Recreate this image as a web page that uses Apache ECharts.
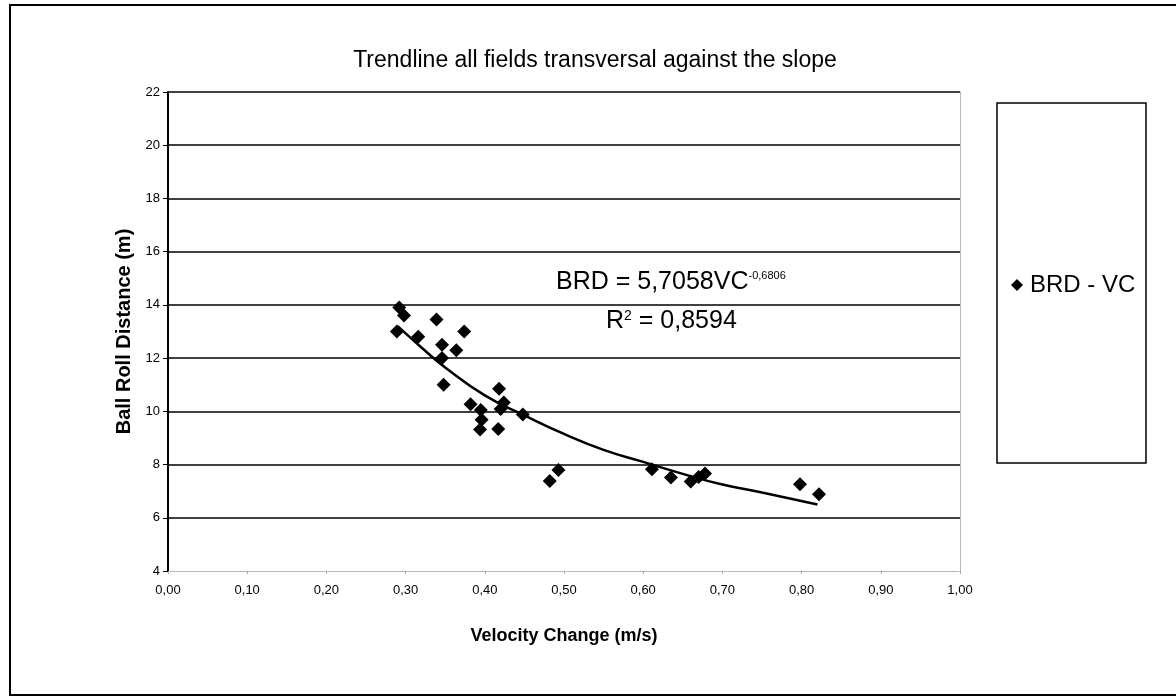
<!DOCTYPE html>
<html>
<head>
<meta charset="utf-8">
<title>Trendline all fields transversal against the slope</title>
<script src="https://cdn.jsdelivr.net/npm/echarts@6/dist/echarts.min.js"></script>
<style>
  html, body { margin: 0; padding: 0; background: #fff; }
  #chart { width: 1176px; height: 699px; }
</style>
</head>
<body>
<div id="chart"></div>
<script>
// measured points (Velocity Change, Ball Roll Distance)
const vcValues = [0.292, 0.298, 0.339, 0.374, 0.289, 0.316, 0.346, 0.364, 0.346, 0.348,
  0.382, 0.395, 0.396, 0.394, 0.418, 0.424, 0.420, 0.417, 0.448, 0.493,
  0.482, 0.611, 0.635, 0.660, 0.670, 0.678, 0.798, 0.822]
const brdValues = [13.9, 13.6, 13.45, 13.0, 13.0, 12.8, 12.5, 12.3, 12.0, 11.0,
  10.27, 10.05, 9.68, 9.32, 10.85, 10.33, 10.09, 9.34, 9.88, 7.80,
  7.38, 7.82, 7.51, 7.36, 7.53, 7.66, 7.26, 6.88]

// trendline
const trendX = [0.29, 0.32, 0.35, 0.40, 0.45, 0.50, 0.55, 0.60, 0.65, 0.70, 0.75, 0.82]
const trendY = [13.2, 12.4, 11.65, 10.6, 9.85, 9.15, 8.55, 8.1, 7.65, 7.25, 6.95, 6.5]

const seriesName = 'BRD - VC'
const titleText = 'Trendline all fields transversal against the slope'
const xName = 'Velocity Change (m/s)'
const yName = 'Ball Roll Distance (m)'

const font = "'Liberation Sans', Arial, sans-serif"

let chart = echarts.init(document.getElementById('chart'))

let scatterData = vcValues.map((v, i) => [v, brdValues[i]])
let trendData = trendX.map((v, i) => [v, trendY[i]])

// first split line (at the x axis) is left out, the axis line is dotted there
let splitColors = ['rgba(0,0,0,0)']
for (let i = 0; i < 9; i++) splitColors.push('#000')

let option = {
  animation: false,
  backgroundColor: '#fff',
  textStyle: { fontFamily: font },
  title: {
    text: titleText,
    left: 590,
    top: 44,
    textAlign: 'center',
    textStyle: { fontSize: 23, fontWeight: 'normal', color: '#000', fontFamily: font }
  },
  legend: {
    data: [seriesName],
    left: 1006,
    top: 268,
    icon: 'diamond',
    itemWidth: 12,
    itemHeight: 12,
    itemGap: 0,
    textStyle: { fontSize: 24, color: '#000', fontFamily: font, padding: [0, 0, 0, 2] }
  },
  grid: {
    left: 168,
    right: 216,
    top: 92,
    bottom: 128
  },
  xAxis: {
    type: 'value',
    min: 0,
    max: 1,
    interval: 0.1,
    name: xName,
    nameLocation: 'middle',
    nameGap: 56,
    nameTextStyle: { fontSize: 18, fontWeight: 'bold', color: '#000', fontFamily: font },
    axisLine: { show: true, lineStyle: { color: '#aaa', type: 'dotted', width: 1 } },
    axisTick: { show: true, length: 3, lineStyle: { color: '#aaa' } },
    axisLabel: {
      color: '#000',
      fontSize: 13,
      margin: 13,
      formatter: v => v.toFixed(2).replace('.', ',')
    },
    splitLine: { show: false }
  },
  yAxis: [{
    type: 'value',
    min: 4,
    max: 22,
    interval: 2,
    name: yName,
    nameLocation: 'middle',
    nameGap: 33,
    nameTextStyle: { fontSize: 20, fontWeight: 'bold', color: '#000', fontFamily: font },
    axisLine: { show: true, lineStyle: { color: '#000', width: 2 } },
    axisTick: { show: true, length: 5, lineStyle: { color: '#000' } },
    axisLabel: { color: '#000', fontSize: 13, margin: 8 },
    splitLine: { show: true, lineStyle: { color: splitColors, width: 1.5 } }
  }, {
    type: 'value',
    min: 4,
    max: 22,
    interval: 2,
    position: 'right',
    axisLine: { show: true, lineStyle: { color: '#aaa', type: 'dotted', width: 1 } },
    axisTick: { show: false },
    axisLabel: { show: false },
    splitLine: { show: false }
  }],
  graphic: [{
    // outer chart frame
    type: 'rect',
    shape: { x: 10, y: 5, width: 1180, height: 690 },
    style: { fill: 'none', stroke: '#000', lineWidth: 2 },
    silent: true
  }, {
    // legend frame
    type: 'rect',
    shape: { x: 997, y: 103, width: 149, height: 360 },
    style: { fill: 'none', stroke: '#000', lineWidth: 1.5 },
    silent: true
  }, {
    type: 'text',
    left: 556,
    top: 270,
    style: {
      text: '{a|BRD = 5,7058VC}{s|-0,6806}',
      rich: {
        a: { fontSize: 25, fontFamily: font, fill: '#000' },
        s: { fontSize: 11, fontFamily: font, fill: '#000', verticalAlign: 'top', padding: [0, 0, 14, 0] }
      }
    }
  }, {
    type: 'text',
    left: 606,
    top: 309,
    style: {
      text: '{a|R}{s|2}{a| = 0,8594}',
      rich: {
        a: { fontSize: 25, fontFamily: font, fill: '#000' },
        s: { fontSize: 14, fontFamily: font, fill: '#000', verticalAlign: 'top', padding: [0, 0, 11, 0] }
      }
    }
  }],
  series: [{
    name: seriesName,
    type: 'scatter',
    symbol: 'diamond',
    symbolSize: 14,
    itemStyle: { color: '#000', opacity: 1 },
    data: scatterData,
    z: 3
  }, {
    name: 'trend',
    type: 'line',
    smooth: true,
    symbol: 'none',
    lineStyle: { color: '#000', width: 2.5 },
    data: trendData,
    z: 2
  }]
}
chart.setOption(option)
</script>
</body>
</html>
